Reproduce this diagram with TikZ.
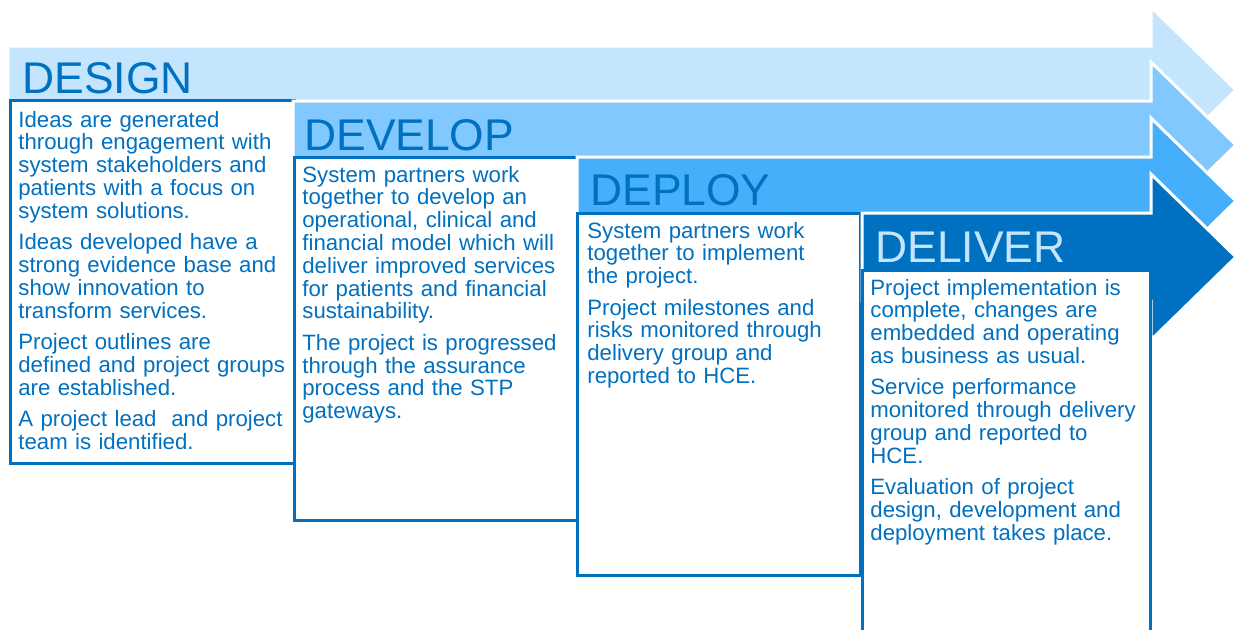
\documentclass[tikz,border=0pt]{standalone}
\usepackage{fontspec}
\setmainfont{Liberation Sans}
\usetikzlibrary{shapes,arrows}
\definecolor{phaseone}{HTML}{C3E5FD}
\definecolor{phasetwo}{HTML}{80C8FD}
\definecolor{phasethree}{HTML}{45AFFC}
\definecolor{phasefour}{HTML}{0070C0}
\definecolor{darkblue}{HTML}{0070C0}

\begin{document}
\begin{tikzpicture}[x=0.5pt,y=-0.5pt]
		\tikzstyle {arrow band} = [draw=white, line width=1.5pt]
		\tikzstyle {phase box} = [draw=darkblue, fill=white, line width=1.5pt]
		\tikzstyle {phase title} = [anchor=base west, inner sep=0pt, text=darkblue, font=\fontsize{22.2}{24}\selectfont]
		\tikzstyle {phase text} = [anchor=base west, inner sep=0pt, text=darkblue, text width=150pt, align=left, font=\fontsize{11.1}{11.4}\selectfont]

		\clip (0,0) rectangle (1238,629);
		\fill[white] (0,0) rectangle (1238,629);

		% design
		\filldraw[arrow band, fill=phaseone] (8,46) -- (1151,46) -- (1151,7) -- (1236,90) -- (1151,173) -- (1151,134) -- (8,134) -- cycle;
		\filldraw[phase box] (10,100) rectangle (294,463);
		\node[phase title] (design-title) at (22,93) {DESIGN};
		\node[phase text] (design-text) at (18,127) {Ideas are generated\\ through engagement with\\ system stakeholders and\\ patients with a focus on\\ system solutions.\\[4.3pt] Ideas developed have a\\ strong evidence base and\\ show innovation to\\ transform services.\\[4.3pt] Project outlines are\\ defined and project groups\\ are established.\\[4.3pt] A project lead\ \ and project\\ team is identified.};

		% develop
		\filldraw[arrow band, fill=phasetwo] (293,101) -- (1151,101) -- (1151,62) -- (1236,145) -- (1151,228) -- (1151,189) -- (293,189) -- cycle;
		\filldraw[phase box] (294,157) rectangle (577,520);
		\node[phase title] (develop-title) at (304,150) {DEVELOP};
		\node[phase text] (develop-text) at (302,182) {System partners work\\ together to develop an\\ operational, clinical and\\ financial model which will\\ deliver improved services\\ for patients and financial\\ sustainability.\\[4.3pt] The project is progressed\\ through the assurance\\ process and the STP\\ gateways.};

		% deploy
		\filldraw[arrow band, fill=phasethree] (577,157) -- (1151,157) -- (1151,118) -- (1236,201) -- (1151,284) -- (1151,245) -- (577,245) -- cycle;
		\filldraw[phase box] (577,213) rectangle (860,575);
		\node[phase title] (deploy-title) at (590,205) {DEPLOY};
		\node[phase text] (deploy-text) at (587,238) {System partners work\\ together to implement\\ the project.\\[4.3pt] Project milestones and\\ risks monitored through\\ delivery group and\\ reported to HCE.};

		% deliver
		\filldraw[arrow band, fill=phasefour] (862,213) -- (1151,213) -- (1151,174) -- (1236,257) -- (1151,340) -- (1151,301) -- (862,301) -- cycle;
		\filldraw[phase box] (862,270) rectangle (1150,650);
		\node[phase title, text=phaseone] (deliver-title) at (875,262) {DELIVER};
		\node[phase text] (deliver-text) at (870,295) {Project implementation is\\ complete, changes are\\ embedded and operating\\ as business as usual.\\[4.3pt] Service performance\\ monitored through delivery\\ group and reported to\\ HCE.\\[4.3pt] Evaluation of project\\ design, development and\\ deployment takes place.};
	\end{tikzpicture}
\end{document}
